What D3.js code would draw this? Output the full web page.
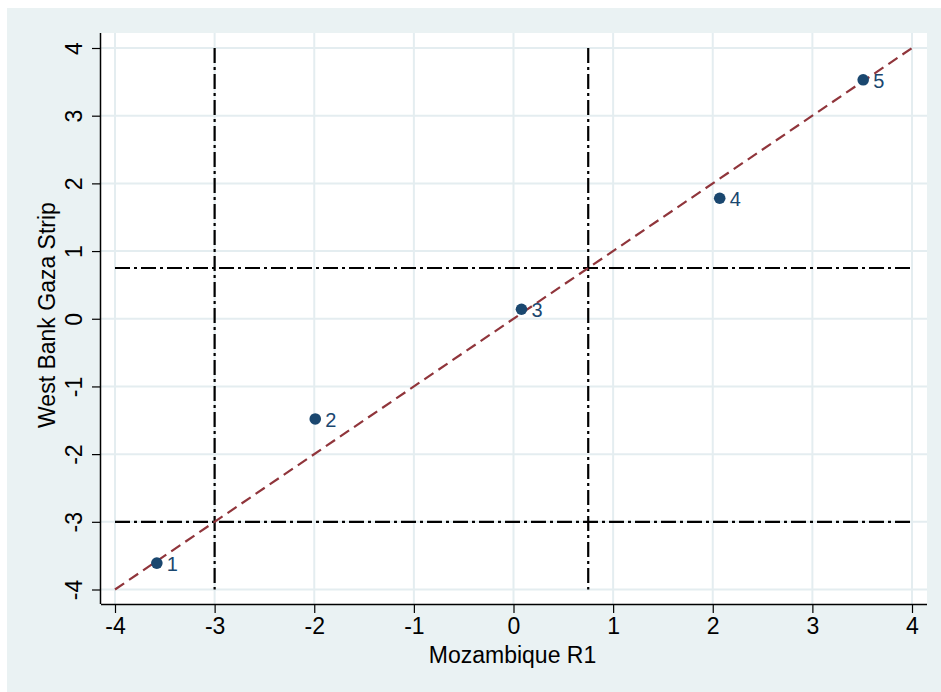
<!DOCTYPE html>
<html><head><meta charset="utf-8">
<script src="https://cdn.jsdelivr.net/npm/d3@7"></script>
<style>body{margin:0;background:#fff;} text{font-family:"Liberation Sans",Arial,sans-serif;}</style>
</head><body><svg id="c" width="941" height="692"></svg>
<script>
const labels = ["1","2","3","4","5"];
const xValues = [-3.58, -1.99, 0.08, 2.07, 3.51];
const yValues = [-3.61, -1.48, 0.14, 1.78, 3.53];
const xTicks = [-4,-3,-2,-1,0,1,2,3,4];
const yTicks = [-4,-3,-2,-1,0,1,2,3,4];
const refX = [-3, 0.75];
const refY = [-3, 0.75];
const diag = [[-4,-4],[4,4]];
const xTitle = "Mozambique R1";
const yTitle = "West Bank Gaza Strip";

const navy = "#1a476f", maroon = "#90353b", bg = "#eaf2f3", grid = "#e4edf0";
const FF = "Liberation Sans, Arial, sans-serif";
const svg = d3.select("#c");
svg.append("rect").attr("x",7).attr("y",8).attr("width",934).attr("height",684).attr("fill",bg);
const L=101, R=927, T=33, B=604;
svg.append("rect").attr("x",L).attr("y",T).attr("width",R-L).attr("height",B-T).attr("fill","#fff");
const x = d3.scaleLinear().domain([-4,4]).range([115,912]);
const y = d3.scaleLinear().domain([-4,4]).range([589.5,48]);
const fmt = d => String(d);

// grid
svg.append("g").selectAll("line").data(xTicks).join("line")
  .attr("x1",d=>x(d)).attr("x2",d=>x(d)).attr("y1",T).attr("y2",B)
  .attr("stroke",grid).attr("stroke-width",2);
svg.append("g").selectAll("line").data(yTicks).join("line")
  .attr("y1",d=>y(d)).attr("y2",d=>y(d)).attr("x1",L).attr("x2",R)
  .attr("stroke",grid).attr("stroke-width",2);

// axes
const xa = svg.append("g").attr("transform",`translate(0,${B})`)
  .call(d3.axisBottom(x).tickValues(xTicks).tickFormat(fmt).tickSize(9).tickPadding(5).tickSizeOuter(0));
xa.select(".domain").attr("d",`M${L},0.5H${R}`).attr("stroke","#000").attr("stroke-width",1.5);
xa.selectAll(".tick line").attr("stroke","#000").attr("stroke-width",1.2);
xa.selectAll(".tick text").attr("font-size",23).attr("fill","#000").attr("font-family",FF);

const ya = svg.append("g").attr("transform",`translate(${L},0)`)
  .call(d3.axisLeft(y).tickValues(yTicks).tickFormat(fmt).tickSize(9).tickSizeOuter(0));
ya.select(".domain").attr("d",`M-0.5,${T}V${B}`).attr("stroke","#000").attr("stroke-width",1.5);
ya.selectAll(".tick line").attr("stroke","#000").attr("stroke-width",1.2);
ya.selectAll(".tick text").attr("font-size",23).attr("fill","#000").attr("font-family",FF)
  .attr("x",null).attr("dy",null)
  .attr("text-anchor","middle").attr("dominant-baseline","central")
  .attr("transform","translate(-27,0) rotate(-90)");

// reference lines (dash-dot)
svg.append("g").selectAll("line").data(refX).join("line")
  .attr("x1",d=>x(d)).attr("x2",d=>x(d)).attr("y1",y(4)).attr("y2",y(-4))
  .attr("stroke","#000").attr("stroke-width",2.2).attr("stroke-dasharray","15,4,3,4");
svg.append("g").selectAll("line").data(refY).join("line")
  .attr("y1",d=>y(d)).attr("y2",d=>y(d)).attr("x1",x(-4)).attr("x2",x(4))
  .attr("stroke","#000").attr("stroke-width",2.2).attr("stroke-dasharray","15,4,3,4");

// diagonal
svg.append("path").datum(diag)
  .attr("d",d3.line().x(d=>x(d[0])).y(d=>y(d[1])))
  .attr("fill","none").attr("stroke",maroon).attr("stroke-width",2.2).attr("stroke-dasharray","11,6");

// points
const pts = labels.map((l,i)=>({l, x:xValues[i], y:yValues[i]}));
svg.append("g").selectAll("circle").data(pts).join("circle")
  .attr("cx",d=>x(d.x)).attr("cy",d=>y(d.y)).attr("r",5.8).attr("fill",navy);
svg.append("g").selectAll("text").data(pts).join("text")
  .attr("x",d=>x(d.x)+10).attr("y",d=>y(d.y)+1).attr("dominant-baseline","central")
  .attr("font-size",20).attr("fill",navy).text(d=>d.l);

// titles
svg.append("text").attr("x",512.5).attr("y",663).attr("text-anchor","middle")
  .attr("font-size",23).attr("fill","#000").text(xTitle);
svg.append("text").attr("transform",`translate(55,315) rotate(-90)`)
  .attr("text-anchor","middle").attr("font-size",23).attr("fill","#000").text(yTitle);
</script></body></html>
